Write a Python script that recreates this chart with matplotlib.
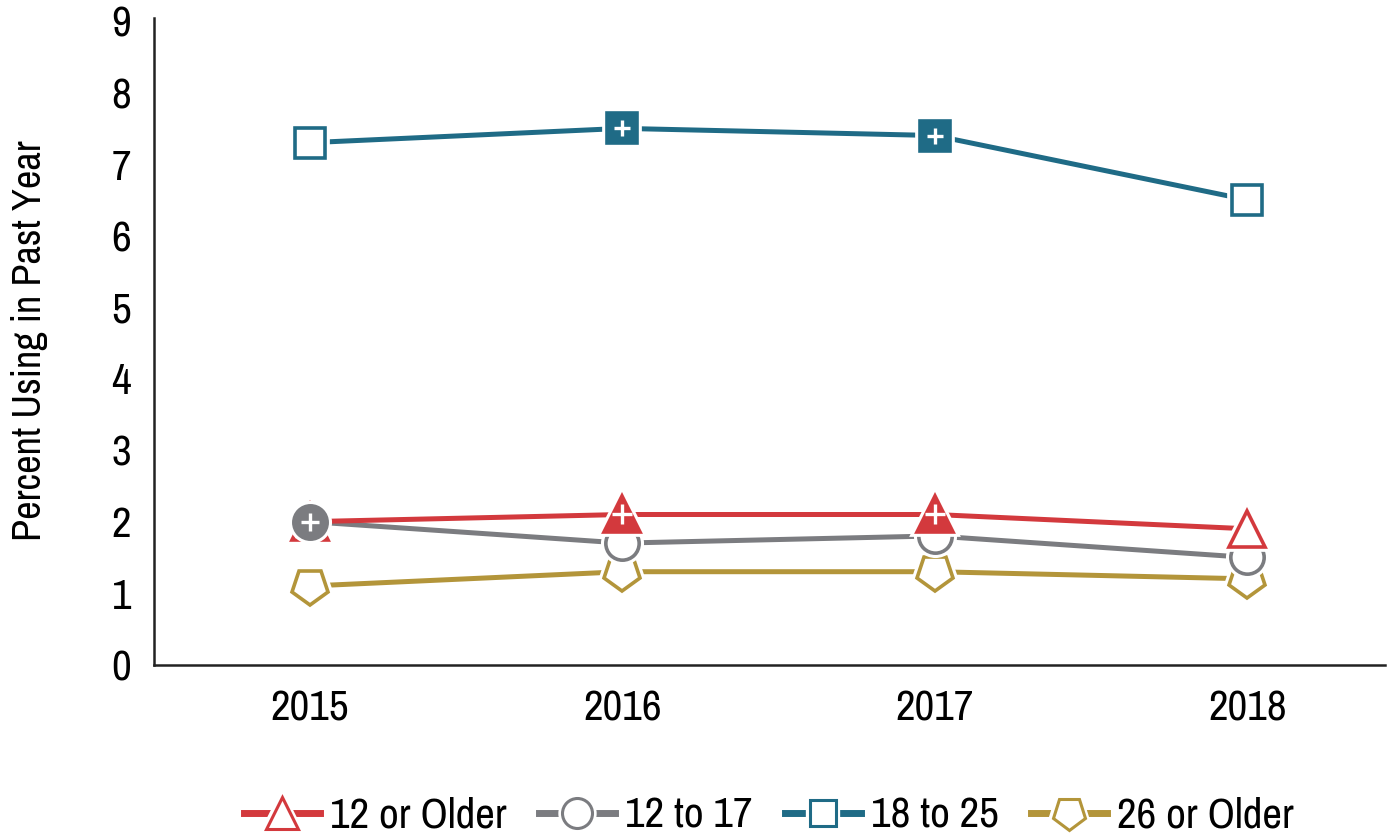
import matplotlib.pyplot as plt
from matplotlib.lines import Line2D
from matplotlib.legend_handler import HandlerTuple
from matplotlib.markers import MarkerStyle
from matplotlib.transforms import Affine2D

plt.rcParams['font.family'] = ['Archivo Narrow', 'DejaVu Sans']

years = [2015, 2016, 2017, 2018]
age_groups = ['12 or Older', '12 to 17', '18 to 25', '26 or Older']
older12 = [2.0, 2.1, 2.1, 1.9]
age12_17 = [2.0, 1.7, 1.8, 1.5]
age18_25 = [7.3, 7.5, 7.4, 6.5]
older26 = [1.1, 1.3, 1.3, 1.2]
# True = significant difference vs 2018 (filled marker with +)
sig_12 = [False, True, True, False]
sig_1217 = [True, False, False, False]
sig_1825 = [False, True, True, False]
sig_26 = [False, False, False, False]

pent = MarkerStyle('p', transform=Affine2D().rotate_deg(180))
series = [
    (older12, sig_12, '#d3393d', '^', 26),
    (age12_17, sig_1217, '#7b7c80', 'o', 24),
    (age18_25, sig_1825, '#1f6b86', 's', 21),
    (older26, sig_26, '#b3953a', pent, 27),
]

fig = plt.figure(figsize=(13.96, 8.35), dpi=100)
ax = fig.add_axes([0.110, 0.204, 0.882, 0.775])

z = 2
for vals, sig, col, mk, ms in (series[3], series[2], series[1], series[0]):
    ax.plot(years, vals, color=col, lw=3.6, zorder=1)
    for x, y, s in zip(years, vals, sig):
        zz = z + (10 if s else 0)
        # white halo to separate line from marker
        ax.plot(x, y, marker=mk, ms=ms, mfc='white', mec='white', mew=7, zorder=zz)
        ax.plot(x, y, marker=mk, ms=ms, mfc=col if s else 'white', mec=col, mew=2.6, zorder=zz + 0.1)
        if s:
            ax.plot(x, y, marker='+', ms=ms * 0.55, mec='white', mew=2.4, zorder=zz + 0.2)
    z += 1

ax.set_xlim(2014.5, 2018.44)
ax.set_ylim(0, 9.05)
ax.set_xticks(years)
ax.set_yticks(range(0, 10))
ax.tick_params(length=0, labelsize=31)
ax.tick_params(axis='x', pad=18)
ax.tick_params(axis='y', pad=16)
for s in ['top', 'right']:
    ax.spines[s].set_visible(False)
for s in ['left', 'bottom']:
    ax.spines[s].set_linewidth(1.8)
    ax.spines[s].set_color('#222222')
ax.set_ylabel('Percent Using in Past Year', fontsize=29, labelpad=46)

handles = []
for (vals, sig, col, mk, ms), name in zip(series, age_groups):
    ln = Line2D([], [], color=col, lw=5)
    halo = Line2D([], [], ls='none', marker=mk, ms=ms * 0.9, mfc='white', mec='white', mew=6)
    m = Line2D([], [], ls='none', marker=mk, ms=ms * 0.9, mfc='white', mec=col, mew=2.2)
    handles.append((ln, halo, m))
fig.legend(handles=handles, labels=age_groups, handler_map={tuple: HandlerTuple(ndivide=1, pad=0)},
           loc='lower center', bbox_to_anchor=(0.551, -0.046), ncol=4,
           frameon=False, fontsize=31, handlelength=1.75, columnspacing=0.75, handletextpad=0.25)

fig.savefig('out.png', dpi=100)
